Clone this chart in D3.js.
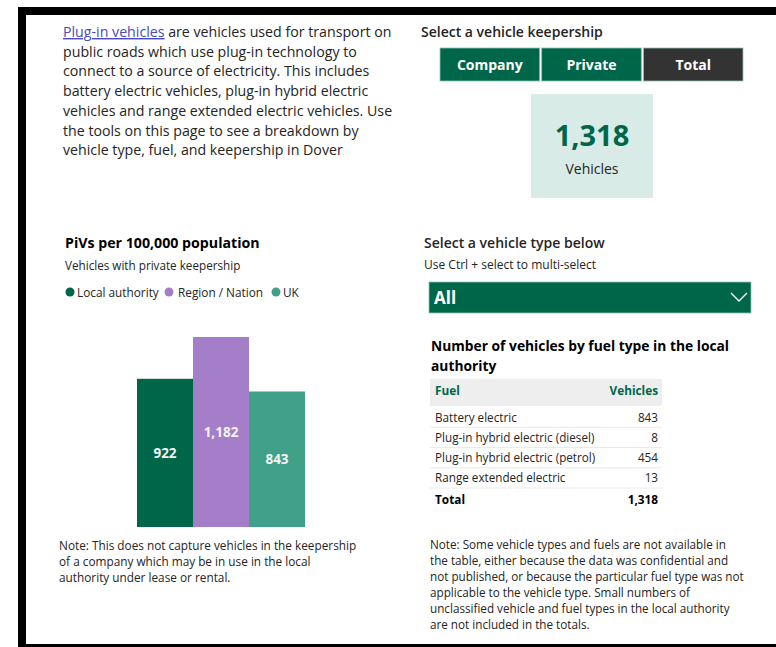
<!DOCTYPE html>
<html>
<head>
<meta charset="utf-8">
<script src="https://cdn.jsdelivr.net/npm/d3@7"></script>
<style>
  html, body { margin: 0; padding: 0; background: #fff; }
  svg { display: block; }
  text { font-family: 'Segoe UI', 'Open Sans', sans-serif; }
</style>
</head>
<body>
<div id="chart"></div>
<script>
// bar chart: PiVs per 100,000 population (private keepership)
const barCategories = ['Local authority', 'Region / Nation', 'UK'];
const barValues = [922, 1182, 843];

// fuel table
const fuelTypes = [
  'Battery electric',
  'Plug-in hybrid electric (diesel)',
  'Plug-in hybrid electric (petrol)',
  'Range extended electric',
];
const fuelVehicles = [843, 8, 454, 13];

// slicers
const keeperships = ['Company', 'Private', 'Total'];
const selectedKeepership = 'Total';
const vehicleTypeSelection = 'All';

const introLines = [
  ' are vehicles used for transport on',
  'public roads which use plug-in technology to',
  'connect to a source of electricity. This includes',
  'battery electric vehicles, plug-in hybrid electric',
  'vehicles and range extended electric vehicles. Use',
  'the tools on this page to see a breakdown by',
  'vehicle type, fuel, and keepership in Dover',
];
const leftNote = [
  'Note: This does not capture vehicles in the keepership',
  'of a company which may be in use in the local',
  'authority under lease or rental.',
];
const rightNote = [
  'Note: Some vehicle types and fuels are not available in',
  'the table, either because the data was confidential and',
  'not published, or because the particular fuel type was not',
  'applicable to the vehicle type. Small numbers of',
  'unclassified vehicle and fuel types in the local authority',
  'are not included in the totals.',
];

const colors = {
  green: '#00664a',
  purple: '#a47ec9',
  teal: '#41a08a',
  dark: '#333333',
  text: '#252423',
  card: '#d9ebe6',
};
const barColors = [colors.green, colors.purple, colors.teal];

const width = 776;
const height = 647;

const svg = d3
  .select('#chart')
  .append('svg')
  .attr('width', width)
  .attr('height', height);

// frame
svg.append('rect').attr('x', 18).attr('y', 7).attr('width', width - 18).attr('height', 8).attr('fill', '#000');
svg.append('rect').attr('x', 18).attr('y', 7).attr('width', 8).attr('height', height - 7).attr('fill', '#000');
svg.append('rect').attr('x', 18).attr('y', 644).attr('width', width - 18).attr('height', 3).attr('fill', '#000');

// intro paragraph
const intro = svg.append('g').attr('font-size', 14.2).attr('fill', colors.text);
introLines.forEach((line, i) => {
  const t = intro.append('text').attr('x', 63).attr('y', 37 + i * 19.7);
  if (i === 0) {
    t.append('tspan').attr('fill', '#4a4ab8').attr('text-decoration', 'underline').text('Plug-in vehicles');
  }
  t.append('tspan').text(line);
});

// keepership slicer
svg.append('text')
  .attr('x', 421).attr('y', 37)
  .attr('font-size', 14).attr('font-weight', 600).attr('fill', colors.text)
  .text('Select a vehicle keepership');

const btnX = d3.scaleBand().domain(keeperships).range([440, 743]).paddingInner(0.02);
const btn = svg.selectAll('.btn').data(keeperships).enter().append('g').attr('class', 'btn');
btn.append('rect')
  .attr('x', (d) => btnX(d)).attr('y', 48)
  .attr('width', btnX.bandwidth()).attr('height', 33)
  .attr('fill', (d) => (d === selectedKeepership ? colors.dark : colors.green))
  .attr('stroke', '#8fc4b3').attr('stroke-width', 0.8);
btn.append('text')
  .attr('x', (d) => btnX(d) + btnX.bandwidth() / 2).attr('y', 70)
  .attr('text-anchor', 'middle').attr('font-size', 14).attr('font-weight', 700).attr('fill', '#fff')
  .text((d) => d);

// card
const total = d3.sum(fuelVehicles);
svg.append('rect').attr('x', 531).attr('y', 94).attr('width', 122).attr('height', 104).attr('fill', colors.card);
svg.append('text')
  .attr('x', 592).attr('y', 146)
  .attr('text-anchor', 'middle').attr('font-size', 29).attr('font-weight', 700).attr('fill', colors.green)
  .text(d3.format(',')(total));
svg.append('text')
  .attr('x', 592).attr('y', 174)
  .attr('text-anchor', 'middle').attr('font-size', 14).attr('fill', colors.text)
  .text('Vehicles');

// bar chart title + legend
svg.append('text')
  .attr('x', 65).attr('y', 248)
  .attr('font-size', 14.2).attr('font-weight', 700).attr('fill', '#000')
  .text('PiVs per 100,000 population');
svg.append('text')
  .attr('x', 65).attr('y', 269.5)
  .attr('font-size', 11.7).attr('fill', colors.text)
  .text('Vehicles with private keepership');

const legendX = [70, 169, 276];
const legend = svg.selectAll('.legend').data(barCategories).enter().append('g').attr('class', 'legend');
legend.append('circle')
  .attr('cx', (d, i) => legendX[i]).attr('cy', 292).attr('r', 4.5)
  .attr('fill', (d, i) => barColors[i]);
legend.append('text')
  .attr('x', (d, i) => legendX[i] + (i === 1 ? 9 : 7)).attr('y', 296.5)
  .attr('font-size', 11.8).attr('fill', colors.text)
  .text((d) => d);

// bars
const x = d3.scaleBand().domain(barCategories).range([137, 305]).padding(0);
const y = d3.scaleLinear().domain([0, d3.max(barValues)]).range([527, 337]);

const bars = svg.selectAll('.bar').data(barValues).enter().append('g').attr('class', 'bar');
bars.append('rect')
  .attr('x', (d, i) => x(barCategories[i]))
  .attr('y', (d) => y(d))
  .attr('width', x.bandwidth())
  .attr('height', (d) => y(0) - y(d))
  .attr('fill', (d, i) => barColors[i]);
bars.append('text')
  .attr('x', (d, i) => x(barCategories[i]) + x.bandwidth() / 2)
  .attr('y', (d) => (y(d) + y(0)) / 2 + 5)
  .attr('text-anchor', 'middle').attr('font-size', 13.5).attr('font-weight', 700).attr('fill', '#f4f4f4')
  .text((d) => d3.format(',')(d));

// left note
svg.append('g').selectAll('text').data(leftNote).enter().append('text')
  .attr('x', 59).attr('y', (d, i) => 550 + i * 16)
  .attr('font-size', 11.8).attr('fill', colors.text)
  .text((d) => d);

// vehicle type slicer
svg.append('text')
  .attr('x', 424).attr('y', 248)
  .attr('font-size', 14).attr('font-weight', 600).attr('fill', colors.text)
  .text('Select a vehicle type below');
svg.append('text')
  .attr('x', 424).attr('y', 269)
  .attr('font-size', 12).attr('fill', colors.text)
  .text('Use Ctrl + select to multi-select');
svg.append('rect').attr('x', 429).attr('y', 282).attr('width', 322).attr('height', 31)
  .attr('fill', colors.green).attr('stroke', '#8fc4b3').attr('stroke-width', 0.8);
svg.append('text')
  .attr('x', 434).attr('y', 304)
  .attr('font-size', 17).attr('font-weight', 700).attr('fill', '#fff')
  .text(vehicleTypeSelection);
svg.append('path')
  .attr('d', 'M731,293 L739,301 L747,293')
  .attr('fill', 'none').attr('stroke', '#fff').attr('stroke-width', 1.4);

// table
svg.append('g').selectAll('text')
  .data(['Number of vehicles by fuel type in the local', 'authority'])
  .enter().append('text')
  .attr('x', 431).attr('y', (d, i) => 351 + i * 20)
  .attr('font-size', 13.8).attr('font-weight', 700).attr('fill', '#000')
  .text((d) => d);

const tLeft = 430, tRight = 662;
svg.append('rect').attr('x', tLeft).attr('y', 379).attr('width', tRight - tLeft).attr('height', 27).attr('fill', '#eeeeee');
svg.append('text').attr('x', 435).attr('y', 394.5)
  .attr('font-size', 11.8).attr('font-weight', 700).attr('fill', colors.green).text('Fuel');
svg.append('text').attr('x', 658).attr('y', 394.5).attr('text-anchor', 'end')
  .attr('font-size', 11.8).attr('font-weight', 700).attr('fill', colors.green).text('Vehicles');

const rowY = d3.scaleBand().domain(fuelTypes).range([407, 488]);
const rows = svg.selectAll('.row').data(fuelTypes).enter().append('g').attr('class', 'row');
rows.append('line')
  .attr('x1', tLeft).attr('x2', tRight)
  .attr('y1', (d) => rowY(d) + rowY.bandwidth()).attr('y2', (d) => rowY(d) + rowY.bandwidth())
  .attr('stroke', '#eaeaea').attr('stroke-width', 1);
rows.append('text')
  .attr('x', 435).attr('y', (d) => rowY(d) + rowY.bandwidth() / 2 + 4.5)
  .attr('font-size', 11.7).attr('fill', colors.text)
  .text((d) => d);
rows.append('text')
  .attr('x', 658).attr('y', (d) => rowY(d) + rowY.bandwidth() / 2 + 4.5)
  .attr('text-anchor', 'end').attr('font-size', 11.7).attr('fill', colors.text)
  .text((d, i) => d3.format(',')(fuelVehicles[i]));
svg.append('text').attr('x', 435).attr('y', 503.5)
  .attr('font-size', 11.8).attr('font-weight', 700).attr('fill', '#000').text('Total');
svg.append('text').attr('x', 658).attr('y', 503.5).attr('text-anchor', 'end')
  .attr('font-size', 11.8).attr('font-weight', 700).attr('fill', '#000').text(d3.format(',')(total));

// right note
svg.append('g').selectAll('text').data(rightNote).enter().append('text')
  .attr('x', 430).attr('y', (d, i) => 549 + i * 16)
  .attr('font-size', 11.7).attr('fill', colors.text)
  .text((d) => d);
</script>
</body>
</html>
